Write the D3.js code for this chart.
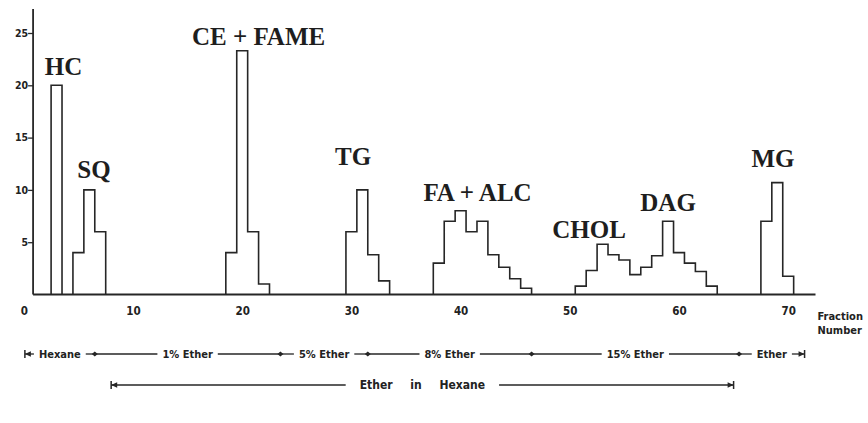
<!DOCTYPE html>
<html>
<head>
<meta charset="utf-8">
<script src="https://cdn.jsdelivr.net/npm/d3@7"></script>
<style>
  html, body { margin: 0; padding: 0; background: #fff; }
  svg { display: block; }
  .peak-label { font-family: "Liberation Serif", "DejaVu Serif", serif; font-size: 25px; font-weight: bold; fill: #1e1e1e; }
  .axis text { font-family: "DejaVu Sans Condensed", "Liberation Sans Narrow", "DejaVu Sans", sans-serif; font-weight: bold; fill: #222; }
  .axis .tick line { stroke: #2a2a2a; stroke-width: 1.3; }
  .legend text { font-family: "DejaVu Sans Condensed", "Liberation Sans Narrow", "DejaVu Sans", sans-serif; font-weight: bold; fill: #222; }
</style>
</head>
<body>
<svg id="chart" width="868" height="423"></svg>
<script>
// ---- Data: detector response per fraction, one array per eluted peak ----
const xTicks = [0, 10, 20, 30, 40, 50, 60, 70];
const yTicks = [5, 10, 15, 20, 25];

const hcStart = 3;        const hcValues = [20];
const sqStart = 5;        const sqValues = [4, 10, 6];
const ceFameStart = 19;   const ceFameValues = [4, 23.3, 6, 1];
const tgStart = 30;       const tgValues = [6, 10, 3.8, 1.3];
const faAlcStart = 38;    const faAlcValues = [3, 7, 8, 6, 7, 3.8, 2.6, 1.5, 0.6];
const cholDagStart = 51;  const cholDagValues = [0.8, 2.3, 4.8, 3.8, 3.3, 1.9, 2.6, 3.7, 7.0, 4.0, 3.0, 2.2, 0.8];
const mgStart = 68;       const mgValues = [7, 10.7, 1.75];

const peakNames = ["HC", "SQ", "CE + FAME", "TG", "FA + ALC", "CHOL", "DAG", "MG"];

// Solvent program (fraction numbers where the eluent changes)
const solventLabels = ["Hexane", "1% Ether", "5% Ether", "8% Ether", "15% Ether", "Ether"];
const solventBreaks = [0.1, 6.5, 23.5, 31.5, 46.5, 65.5, 71.5];
const gradientLabel = "Ether in Hexane";
const gradientSpan = [8, 65];

// ---- Layout ----
const svg = d3.select("#chart");
const ink = "#262626";
const x = d3.scaleLinear().domain([0, 70]).range([23.8, 788.2]);
const y = d3.scaleLinear().domain([0, 25]).range([294.5, 33]);
const axisStart = 0.85, axisEnd = 72.5, axisTop = 27.3;

// label anchors in data units [fraction, value]
const labelAnchors = {
  "HC": [3.64, 21.0], "SQ": [6.43, 11.1], "CE + FAME": [21.5, 23.9], "TG": [30.15, 12.4],
  "FA + ALC": [41.55, 8.96], "CHOL": [51.76, 5.41], "DAG": [59.0, 7.95], "MG": [68.6, 12.16]
};

// ---- Axes ----
const xAxis = svg.append("g").attr("class", "axis")
  .attr("transform", `translate(0,${y(0)})`)
  .call(d3.axisBottom(x).tickValues(xTicks).tickSize(0).tickPadding(12));
xAxis.select(".domain").remove();
xAxis.selectAll("text").style("font-size", "11.5px");

const yAxis = svg.append("g").attr("class", "axis")
  .attr("transform", `translate(${x(axisStart)},0)`)
  .call(d3.axisLeft(y).tickValues(yTicks).tickSize(5).tickPadding(0));
yAxis.select(".domain").remove();
yAxis.selectAll("text").style("font-size", "10.5px");

svg.append("line")
  .attr("x1", x(axisStart)).attr("x2", x(axisEnd))
  .attr("y1", y(0)).attr("y2", y(0))
  .attr("stroke", ink).attr("stroke-width", 1.8);
svg.append("line")
  .attr("x1", x(axisStart)).attr("x2", x(axisStart))
  .attr("y1", y(0)).attr("y2", y(axisTop))
  .attr("stroke", ink).attr("stroke-width", 1.8);

const axisTitle = svg.append("text").attr("class", "axis")
  .style("font-family", "'DejaVu Sans Condensed','Liberation Sans Narrow','DejaVu Sans',sans-serif")
  .style("font-weight", "bold").style("font-size", "11px").attr("fill", "#222");
axisTitle.append("tspan").attr("x", x(axisEnd) + 2).attr("y", 320).text("Fraction");
axisTitle.append("tspan").attr("x", x(axisEnd) + 2).attr("y", 334).text("Number");

// ---- Step outlines for each peak ----
const peaks = [
  [hcStart, hcValues], [sqStart, sqValues], [ceFameStart, ceFameValues], [tgStart, tgValues],
  [faAlcStart, faAlcValues], [cholDagStart, cholDagValues], [mgStart, mgValues]
];
function stepPoints(start, vals) {
  const pts = [[start - 0.5, 0]];
  vals.forEach((v, i) => pts.push([start + i - 0.5, v]));
  pts.push([start + vals.length - 0.5, 0]);
  return pts;
}
const stepLine = d3.line().x(d => x(d[0])).y(d => y(d[1])).curve(d3.curveStepAfter);
svg.append("g").selectAll("path")
  .data(peaks)
  .join("path")
  .attr("d", d => stepLine(stepPoints(d[0], d[1])))
  .attr("fill", "none").attr("stroke", ink).attr("stroke-width", 1.6)
  .attr("stroke-linejoin", "miter");

// ---- Peak labels ----
svg.append("g").selectAll("text")
  .data(peakNames)
  .join("text")
  .attr("class", "peak-label")
  .attr("text-anchor", "middle")
  .attr("x", d => x(labelAnchors[d][0]))
  .attr("y", d => y(labelAnchors[d][1]))
  .text(d => d);

// ---- Solvent legend ----
const legend = svg.append("g").attr("class", "legend");
function endMark(g, px, py, dir) {
  g.append("line").attr("x1", px).attr("x2", px).attr("y1", py - 4).attr("y2", py + 4)
    .attr("stroke", ink).attr("stroke-width", 1.5);
  g.append("path")
    .attr("d", `M${px},${py} L${px + dir * 6},${py - 2.8} L${px + dir * 6},${py + 2.8} Z`)
    .attr("fill", ink);
}
function dotMark(g, px, py) {
  g.append("path").attr("d", `M${px - 3},${py} L${px},${py - 2.6} L${px + 3},${py} L${px},${py + 2.6} Z`)
    .attr("fill", ink);
}
function segment(g, a, b, py, label, size, gap, lw, spacing) {
  const mid = (a + b) / 2;
  const t = g.append("text").attr("x", mid).attr("y", py).attr("dy", "0.35em")
    .attr("text-anchor", "middle").style("font-size", size + "px")
    .style("word-spacing", spacing + "px").text(label);
  const w = t.node().getComputedTextLength();
  g.append("line").attr("x1", a).attr("x2", mid - w / 2 - gap).attr("y1", py).attr("y2", py)
    .attr("stroke", ink).attr("stroke-width", lw);
  g.append("line").attr("x1", mid + w / 2 + gap).attr("x2", b).attr("y1", py).attr("y2", py)
    .attr("stroke", ink).attr("stroke-width", lw);
}

const row1 = 354;
solventLabels.forEach((lab, i) => {
  segment(legend, x(solventBreaks[i]), x(solventBreaks[i + 1]), row1, lab, 11, 5, 1.3, 0);
});
solventBreaks.slice(1, -1).forEach(b => dotMark(legend, x(b), row1));
endMark(legend, x(solventBreaks[0]), row1, 1);
endMark(legend, x(solventBreaks[solventBreaks.length - 1]), row1, -1);

const row2 = 385;
segment(legend, x(gradientSpan[0]), x(gradientSpan[1]), row2, gradientLabel, 12, 14, 1.6, 14);
endMark(legend, x(gradientSpan[0]), row2, 1);
endMark(legend, x(gradientSpan[1]), row2, -1);
</script>
</body>
</html>
